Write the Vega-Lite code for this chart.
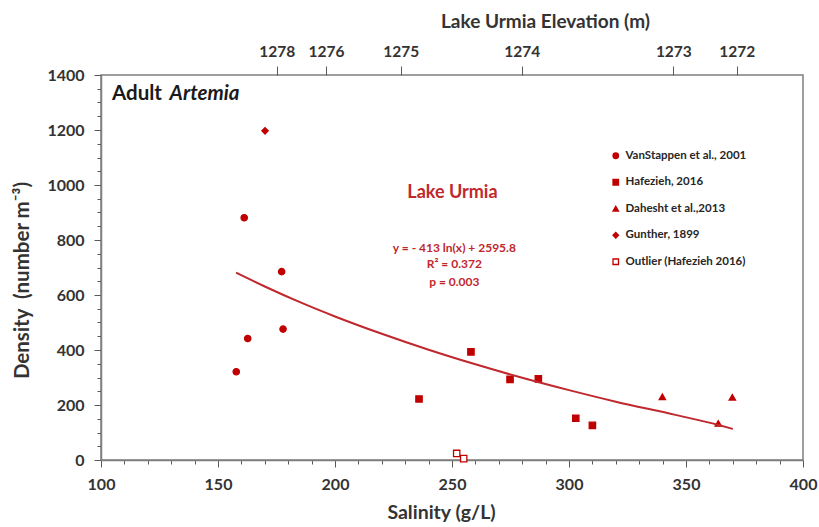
{
  "$schema": "https://vega.github.io/schema/vega-lite/v6.json",
  "width": 702,
  "height": 385,
  "autosize": "none",
  "padding": {"left": 101, "top": 75, "right": 16, "bottom": 67},
  "background": "white",
  "config": {
    "font": "Lato",
    "view": {"stroke": "#7f7f7f", "strokeWidth": 1.5},
    "axis": {"grid": false, "domainColor": "#7f7f7f", "domainWidth": 1.5, "tickColor": "#595959", "tickWidth": 1, "labelFont": "Lato", "labelFontWeight": "bold", "labelColor": "#333333", "titleFont": "Lato", "titleFontWeight": "bold", "titleColor": "#333333", "labelOverlap": false, "labelBound": false, "labelFlush": false}
  },
  "datasets": {
    "pts": [
      {"s": 157.8, "d": 321, "src": "VanStappen et al., 2001"},
      {"s": 161.2, "d": 881, "src": "VanStappen et al., 2001"},
      {"s": 162.7, "d": 442, "src": "VanStappen et al., 2001"},
      {"s": 177.2, "d": 685, "src": "VanStappen et al., 2001"},
      {"s": 177.8, "d": 476, "src": "VanStappen et al., 2001"},
      {"s": 170.1, "d": 1197, "src": "Gunther, 1899"},
      {"s": 235.9, "d": 222, "src": "Hafezieh, 2016"},
      {"s": 258.1, "d": 393, "src": "Hafezieh, 2016"},
      {"s": 274.8, "d": 293, "src": "Hafezieh, 2016"},
      {"s": 286.9, "d": 295, "src": "Hafezieh, 2016"},
      {"s": 302.9, "d": 152, "src": "Hafezieh, 2016"},
      {"s": 310.0, "d": 126, "src": "Hafezieh, 2016"},
      {"s": 339.9, "d": 230, "src": "Dahesht et al.,2013"},
      {"s": 363.8, "d": 133, "src": "Dahesht et al.,2013"},
      {"s": 369.8, "d": 228, "src": "Dahesht et al.,2013"},
      {"s": 252.0, "d": 24, "src": "Outlier (Hafezieh 2016)"},
      {"s": 255.0, "d": 5, "src": "Outlier (Hafezieh 2016)"}
    ],
    "fit": [
      {"s": 157.7, "d": 681},
      {"s": 170, "d": 631},
      {"s": 185, "d": 574},
      {"s": 200, "d": 522},
      {"s": 220, "d": 459},
      {"s": 240, "d": 401},
      {"s": 260, "d": 348},
      {"s": 280, "d": 299},
      {"s": 300, "d": 254},
      {"s": 320, "d": 212},
      {"s": 345, "d": 165},
      {"s": 364, "d": 127},
      {"s": 370, "d": 113}
    ],
    "notes": [
      {"s": 250.2, "d": 971, "t": "Lake Urmia", "k": "title"},
      {"s": 251.0, "d": 771, "t": "y = - 413 ln(x) + 2595.8", "k": "eq"},
      {"s": 251.0, "d": 713, "t": "R² = 0.372", "k": "eq"},
      {"s": 251.0, "d": 647, "t": "p = 0.003", "k": "eq"}
    ],
    "label": [
      {"s": 104.7, "d": 1331, "t": "Adult", "k": "a"},
      {"s": 129.3, "d": 1331, "t": "Artemia", "k": "b"}
    ]
  },
  "resolve": {"axis": {"x": "independent", "y": "independent"}},
  "layer": [
    {
      "data": {"name": "pts"},
      "mark": {"type": "point", "strokeWidth": 1.3, "opacity": 1, "size": 40},
      "encoding": {
        "x": {"field": "s", "type": "quantitative", "scale": {"domain": [100, 400], "nice": false},
          "axis": {"orient": "bottom", "title": "Salinity (g/L)", "titleFontSize": 19.5, "titlePadding": 11, "titleX": 340, "labelFontSize": 16, "labelPadding": 9,
            "values": [100,110,120,130,140,150,160,170,180,190,200,210,220,230,240,250,260,270,280,290,300,310,320,330,340,350,360,370,380,390,400],
            "labelExpr": "datum.value % 50 === 0 ? datum.label : ''",
            "tickSize": {"condition": {"test": "datum.value % 50 === 0", "value": 7}, "value": 4}}},
        "y": {"field": "d", "type": "quantitative", "scale": {"domain": [0, 1400], "nice": false},
          "axis": {"orient": "left", "format": "d", "title": "Density \u00a0(number m⁻³)", "titleFontSize": 20.5, "titleX": -79, "titleY": 205, "titleAngle": 270, "titleAlign": "center", "titleBaseline": "middle", "labelFontSize": 16, "labelPadding": 10,
            "values": [0,50,100,150,200,250,300,350,400,450,500,550,600,650,700,750,800,850,900,950,1000,1050,1100,1150,1200,1250,1300,1350,1400],
            "labelExpr": "datum.value % 200 === 0 ? datum.label : ''",
            "tickSize": {"condition": {"test": "datum.value % 200 === 0", "value": 7}, "value": 4}}},
        "shape": {"field": "src", "type": "nominal",
          "scale": {"domain": ["VanStappen et al., 2001", "Hafezieh, 2016", "Dahesht et al.,2013", "Gunther, 1899", "Outlier (Hafezieh 2016)"],
            "range": ["circle", "square", "triangle-up", "diamond", "square"]},
          "legend": {"title": null, "orient": "none", "legendX": 509, "legendY": 75, "labelFont": "Lato", "labelFontSize": 11.5, "labelFontWeight": "bold", "labelColor": "#262626", "symbolSize": 30, "rowPadding": 13.5, "symbolStrokeWidth": 1.3}},
        "fill": {"field": "src", "type": "nominal",
          "scale": {"domain": ["VanStappen et al., 2001", "Hafezieh, 2016", "Dahesht et al.,2013", "Gunther, 1899", "Outlier (Hafezieh 2016)"],
            "range": ["#C00000", "#C00000", "#C00000", "#C00000", "#ffffff"]},
          "legend": {"title": null, "orient": "none", "legendX": 509, "legendY": 75, "labelFont": "Lato", "labelFontSize": 11.5, "labelFontWeight": "bold", "labelColor": "#262626", "symbolSize": 30, "rowPadding": 13.5, "symbolStrokeWidth": 1.3}},
        "stroke": {"field": "src", "type": "nominal",
          "scale": {"domain": ["VanStappen et al., 2001", "Hafezieh, 2016", "Dahesht et al.,2013", "Gunther, 1899", "Outlier (Hafezieh 2016)"],
            "range": ["#C00000", "#C00000", "#C00000", "#C00000", "#C00000"]},
          "legend": {"title": null, "orient": "none", "legendX": 509, "legendY": 75, "labelFont": "Lato", "labelFontSize": 11.5, "labelFontWeight": "bold", "labelColor": "#262626", "symbolSize": 30, "rowPadding": 13.5, "symbolStrokeWidth": 1.3}}
      }
    },
    {
      "data": {"name": "fit"},
      "mark": {"type": "line", "color": "#C0282D", "strokeWidth": 2, "interpolate": "monotone"},
      "encoding": {
        "x": {"field": "s", "type": "quantitative",
          "axis": {"orient": "top", "title": "Lake Urmia Elevation (m)", "titleFontSize": 19, "titlePadding": 13, "titleX": 444, "labelFontSize": 15.5, "labelPadding": 7, "tickSize": 9, "domain": false,
            "values": [175.1, 196.2, 228.1, 279.8, 344.6, 371.7],
            "labelExpr": "datum.value < 180 ? '1278' : datum.value < 200 ? '1276' : datum.value < 250 ? '1275' : datum.value < 300 ? '1274' : datum.value < 360 ? '1273' : '1272'"}},
        "y": {"field": "d", "type": "quantitative", "axis": null}
      }
    },
    {
      "data": {"name": "notes"},
      "transform": [{"filter": "datum.k === 'title'"}],
      "mark": {"type": "text", "font": "Lato", "fontSize": 18, "fontWeight": "bold", "color": "#C0282D", "align": "center", "baseline": "middle"},
      "encoding": {
        "x": {"field": "s", "type": "quantitative", "axis": null},
        "y": {"field": "d", "type": "quantitative", "axis": null},
        "text": {"field": "t"}
      }
    },
    {
      "data": {"name": "notes"},
      "transform": [{"filter": "datum.k === 'eq'"}],
      "mark": {"type": "text", "font": "Lato", "fontSize": 12, "fontWeight": "bold", "color": "#C0282D", "align": "center", "baseline": "middle"},
      "encoding": {
        "x": {"field": "s", "type": "quantitative", "axis": null},
        "y": {"field": "d", "type": "quantitative", "axis": null},
        "text": {"field": "t"}
      }
    },
    {
      "data": {"name": "label"},
      "transform": [{"filter": "datum.k === 'a'"}],
      "mark": {"type": "text", "font": "Lato", "fontSize": 20.5, "fontWeight": "bold", "color": "#1a1a1a", "align": "left", "baseline": "middle"},
      "encoding": {
        "x": {"field": "s", "type": "quantitative", "axis": null},
        "y": {"field": "d", "type": "quantitative", "axis": null},
        "text": {"field": "t"}
      }
    },
    {
      "data": {"name": "label"},
      "transform": [{"filter": "datum.k === 'b'"}],
      "mark": {"type": "text", "font": "Lato", "fontSize": 20.5, "fontWeight": "bold", "fontStyle": "italic", "color": "#1a1a1a", "align": "left", "baseline": "middle"},
      "encoding": {
        "x": {"field": "s", "type": "quantitative", "axis": null},
        "y": {"field": "d", "type": "quantitative", "axis": null},
        "text": {"field": "t"}
      }
    }
  ]
}
